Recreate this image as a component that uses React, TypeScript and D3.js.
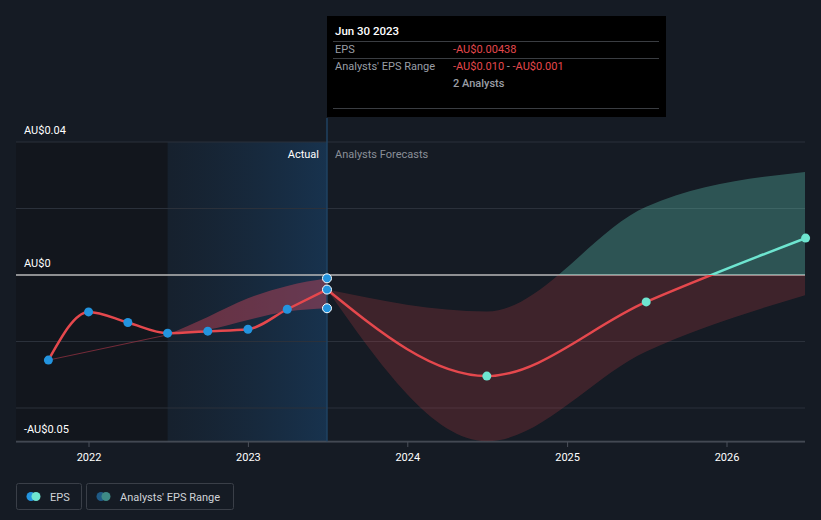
import React from "react";
import * as d3 from "d3";

const W = 821;
const H = 520;

// Actual EPS (quarterly, AU$)
const actualDates = ["2021-09-30", "2021-12-31", "2022-03-31", "2022-06-30", "2022-09-30", "2022-12-31", "2023-03-31", "2023-06-30"];
const actualEps = [-0.0256, -0.0111, -0.0143, -0.0175, -0.0169, -0.0163, -0.0103, -0.00438];

// Historical analysts' range
const histRangeDates = ["2021-09-30", "2022-06-30", "2022-09-30", "2022-12-31", "2023-03-31", "2023-06-30"];
const histRangeLow = [-0.0256, -0.018, -0.0165, -0.0135, -0.011, -0.010];
const histRangeHigh = [-0.0256, -0.018, -0.0126, -0.007, -0.0033, -0.001];

// Forecast EPS
const forecastDates = ["2023-06-30", "2024-06-30", "2025-06-30", "2026-06-30"];
const forecastEps = [-0.00438, -0.0304, -0.0081, 0.0111];
const forecastLow = [-0.00438, -0.0500, -0.0230, -0.0060];
const forecastHigh = [-0.00438, -0.0110, 0.0205, 0.0310];

const xTickYears = [2022, 2023, 2024, 2025, 2026];
const yTickValues = [0.04, 0.02, 0, -0.02, -0.04, -0.05];
const yLabels = [
  { v: 0.04, t: "AU$0.04" },
  { v: 0, t: "AU$0" },
  { v: -0.05, t: "-AU$0.05" },
];

const parse = d3.timeParse("%Y-%m-%d");

const RED = "#e5484d";
const TEAL = "#6ee5d0";
const BLUE = "#2394df";
const BG = "#151b24";
const FONT = "Roboto, 'Open Sans', sans-serif";

export default function App() {
  const x = d3
    .scaleTime()
    .domain([new Date(2022, 0, 1), new Date(2026, 0, 1)])
    .range([89, 727]);
  const y = d3.scaleLinear().domain([-0.05, 0.04]).range([441.25, 142]);

  const left = 16;
  const right = 805;
  const top = 142;
  const bottom = 442;

  const actual = actualDates.map((d, i) => ({ d: parse(d)!, v: actualEps[i] }));
  const hist = histRangeDates.map((d, i) => ({ d: parse(d)!, lo: histRangeLow[i], hi: histRangeHigh[i] }));
  const fc = forecastDates.map((d, i) => ({ d: parse(d)!, v: forecastEps[i], lo: forecastLow[i], hi: forecastHigh[i] }));

  const line = d3
    .line<{ d: Date; v: number }>()
    .x((p) => x(p.d))
    .y((p) => y(p.v))
    .curve(d3.curveMonotoneX);

  const area = d3
    .area<{ d: Date; lo: number; hi: number }>()
    .x((p) => x(p.d))
    .y0((p) => y(p.lo))
    .y1((p) => y(p.hi))
    .curve(d3.curveMonotoneX);

  const histLead = d3
    .line<{ d: Date; lo: number; hi: number }>()
    .x((p) => x(p.d))
    .y((p) => y((p.lo + p.hi) / 2));

  const y0 = y(0);
  const xSplitPast = x(parse("2022-06-30")!);
  const xNow = x(parse("2023-06-30")!);

  return (
    <div style={{ position: "absolute", left: 0, top: 0, width: W, height: H }}>
      <svg width={W} height={H} style={{ display: "block", background: BG, fontFamily: FONT }}>
        <defs>
          <linearGradient id="hl" x1="0" x2="1" y1="0" y2="0">
            <stop offset="0%" stopColor="#1a3550" stopOpacity={0.22} />
            <stop offset="100%" stopColor="#1a4a78" stopOpacity={0.5} />
          </linearGradient>
          <clipPath id="above">
            <rect x={left} y={0} width={right - left} height={y0} />
          </clipPath>
          <clipPath id="below">
            <rect x={left} y={y0} width={right - left} height={H - y0} />
          </clipPath>
          <clipPath id="plot">
            <rect x={left} y={top} width={right - left} height={bottom - top} />
          </clipPath>
        </defs>

        {/* past shading */}
        <rect x={left} y={top} width={xSplitPast - left} height={bottom - top} fill="#12161d" />
        <rect x={xSplitPast} y={top} width={xNow - xSplitPast} height={bottom - top} fill="url(#hl)" />

        {/* gridlines */}
        {yTickValues.map((v) => (
          <line
            key={v}
            x1={left}
            x2={right}
            y1={y(v)}
            y2={y(v)}
            stroke={v === 0 ? "#b8b8b8" : v === -0.05 ? "#4a505a" : "#2b313b"}
            strokeWidth={v === 0 ? 1.5 : 1}
          />
        ))}

        {/* historical analysts range */}
        <path d={histLead(hist.slice(0, 2)) || ""} fill="none" stroke="rgba(150,50,65,0.75)" strokeWidth={1} />
        <path d={area(hist.slice(1)) || ""} fill="rgba(214,72,92,0.42)" />

        {/* forecast range */}
        <g clipPath="url(#plot)">
          <path d={area(fc) || ""} fill="rgba(230,72,77,0.2)" clipPath="url(#below)" />
          <path d={area(fc) || ""} fill="rgba(104,217,196,0.3)" clipPath="url(#above)" />
        </g>

        {/* tooltip vertical line */}
        <line x1={xNow} x2={xNow} y1={118} y2={bottom} stroke="#1f4262" strokeWidth={1.5} />

        {/* EPS lines */}
        <path d={line(actual) || ""} fill="none" stroke={RED} strokeWidth={2.5} />
        <path d={line(fc) || ""} fill="none" stroke={RED} strokeWidth={2.5} clipPath="url(#below)" />
        <path d={line(fc) || ""} fill="none" stroke={TEAL} strokeWidth={2.5} clipPath="url(#above)" />

        {/* dots */}
        {actual.map((p, i) => (
          <circle key={"a" + i} cx={x(p.d)} cy={y(p.v)} r={4.5} fill={BLUE} stroke={i === actual.length - 1 ? "#ffffff" : "none"} strokeWidth={1} />
        ))}
        <circle cx={xNow} cy={y(histRangeHigh[histRangeHigh.length - 1])} r={4.5} fill={BLUE} stroke="#ffffff" strokeWidth={1} />
        <circle cx={xNow} cy={y(histRangeLow[histRangeLow.length - 1])} r={4.5} fill={BLUE} stroke="#ffffff" strokeWidth={1} />
        {fc.slice(1).map((p, i) => (
          <circle key={"f" + i} cx={x(p.d)} cy={y(p.v)} r={4.5} fill={TEAL} />
        ))}

        {/* y labels */}
        {yLabels.map((l) => (
          <text key={l.t} x={24} y={y(l.v) - 8} fill="#ffffff" fontSize={11}>
            {l.t}
          </text>
        ))}

        {/* actual / forecast labels */}
        <text x={xNow - 8} y={158} fill="#ffffff" fontSize={11} textAnchor="end">
          Actual
        </text>
        <text x={xNow + 8} y={158} fill="#8a8f98" fontSize={11}>
          Analysts Forecasts
        </text>

        {/* x axis */}
        <line x1={left} x2={right} y1={bottom} y2={bottom} stroke="#4a505a" strokeWidth={1} />
        {xTickYears.map((yr) => {
          const xx = x(new Date(yr, 0, 1));
          return (
            <g key={yr}>
              <line x1={xx} x2={xx} y1={bottom} y2={bottom + 5} stroke="#4a505a" />
              <text x={xx} y={bottom + 19} fill="#ffffff" fontSize={11} textAnchor="middle">
                {yr}
              </text>
            </g>
          );
        })}

        {/* tooltip */}
        <g>
          <rect x={327} y={16} width={339} height={101} fill="#000000" />
          <text x={335} y={35} fill="#ffffff" fontSize={11.5} fontWeight={500}>
            Jun 30 2023
          </text>
          <line x1={333} x2={659} y1={41.5} y2={41.5} stroke="#3a3d42" />
          <text x={335} y={53} fill="#9a9ea6" fontSize={11}>EPS</text>
          <text x={453} y={53} fill={RED} fontSize={11}>-AU$0.00438</text>
          <line x1={333} x2={659} y1={58.5} y2={58.5} stroke="#3a3d42" />
          <text x={335} y={70} fill="#9a9ea6" fontSize={11}>Analysts' EPS Range</text>
          <text x={453} y={70} fontSize={11}>
            <tspan fill={RED}>-AU$0.010</tspan>
            <tspan fill="#9a9ea6"> - </tspan>
            <tspan fill={RED}>-AU$0.001</tspan>
          </text>
          <text x={453} y={87} fill="#9a9ea6" fontSize={11} fontWeight={500}>2 Analysts</text>
          <line x1={333} x2={659} y1={108.5} y2={108.5} stroke="#3a3d42" />
        </g>

        {/* legend */}
        <g>
          <rect x={16.5} y={483.5} width={65} height={26} rx={2} fill="none" stroke="#3a3f48" />
          <circle cx={31} cy={496.5} r={4.5} fill={BLUE} />
          <circle cx={36} cy={496.5} r={4.5} fill={TEAL} />
          <text x={50} y={500.5} fill="#d0d3d8" fontSize={11}>EPS</text>

          <rect x={86.5} y={483.5} width={147} height={26} rx={2} fill="none" stroke="#3a3f48" />
          <circle cx={101} cy={496.5} r={4.5} fill="#1f5a86" />
          <circle cx={106} cy={496.5} r={4.5} fill="#3e8a86" />
          <text x={120} y={500.5} fill="#d0d3d8" fontSize={11}>Analysts' EPS Range</text>
        </g>
      </svg>
    </div>
  );
}
